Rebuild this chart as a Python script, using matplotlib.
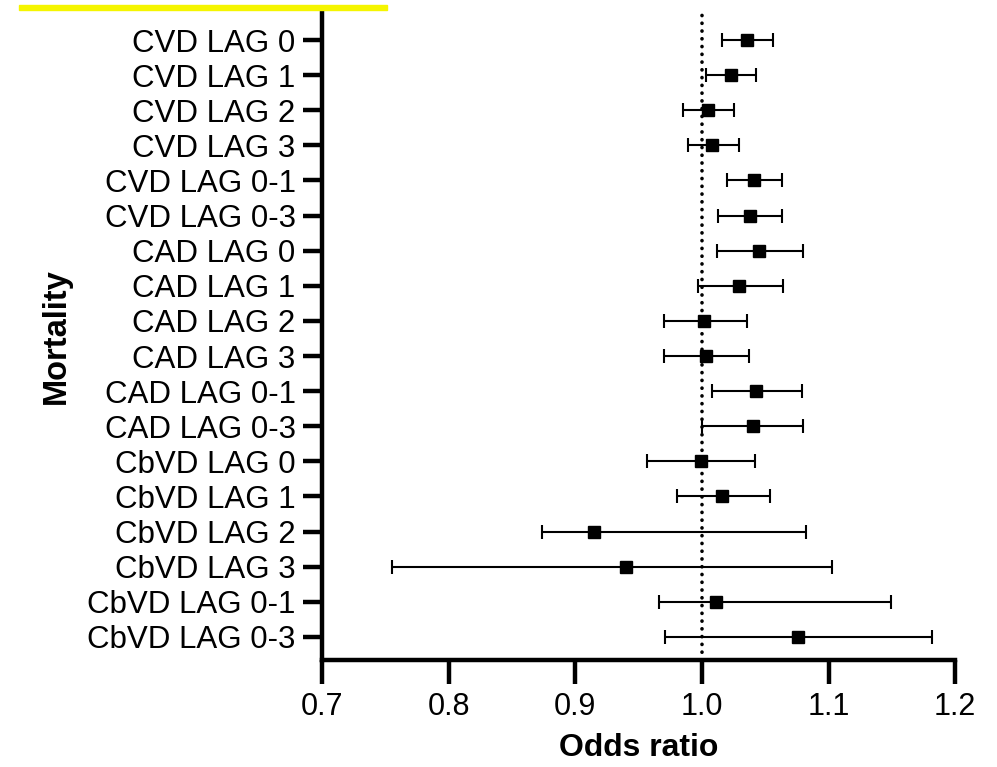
import numpy as np
import matplotlib
matplotlib.use("Agg")
import matplotlib.pyplot as plt
from matplotlib.patches import Rectangle

plt.rcParams['font.family'] = ['Liberation Sans', 'DejaVu Sans']

# forest plot values
labels = ["CVD LAG 0", "CVD LAG 1", "CVD LAG 2", "CVD LAG 3", "CVD LAG 0-1", "CVD LAG 0-3",
          "CAD LAG 0", "CAD LAG 1", "CAD LAG 2", "CAD LAG 3", "CAD LAG 0-1", "CAD LAG 0-3",
          "CbVD LAG 0", "CbVD LAG 1", "CbVD LAG 2", "CbVD LAG 3", "CbVD LAG 0-1", "CbVD LAG 0-3"]
odds = [1.036, 1.023, 1.005, 1.008, 1.041, 1.038,
        1.045, 1.029, 1.002, 1.003, 1.043, 1.040,
        0.999, 1.016, 0.915, 0.940, 1.011, 1.076]
ci_low = [1.016, 1.003, 0.985, 0.989, 1.020, 1.013,
          1.012, 0.997, 0.970, 0.970, 1.008, 1.000,
          0.957, 0.980, 0.874, 0.755, 0.966, 0.971]
ci_high = [1.056, 1.043, 1.025, 1.029, 1.063, 1.063,
           1.080, 1.064, 1.036, 1.037, 1.079, 1.080,
           1.042, 1.054, 1.082, 1.103, 1.149, 1.182]
xticks = [0.7, 0.8, 0.9, 1.0, 1.1, 1.2]

odds = np.array(odds)
err = np.vstack([odds - np.array(ci_low), np.array(ci_high) - odds])
ypos = np.arange(len(labels))

fig = plt.figure(figsize=(9.97, 7.67), dpi=100)
ax = fig.add_axes([0.323, 0.1395, 0.635, 0.8435])

# reference line at OR = 1
ax.axvline(1.0, color='black', lw=2.6, linestyle=(0, (0.05, 2.1)),
           dash_capstyle='round', zorder=1)

ax.errorbar(odds, ypos, xerr=err, fmt='s', color='black', ecolor='black',
            elinewidth=1.5, capsize=5, capthick=1.5, markersize=9, zorder=3)

ax.set_xlim(0.7, 1.2)
ax.set_ylim(len(labels) - 1 + 0.66, -0.77)
ax.set_xticks(xticks)
ax.set_xticklabels([f"{t:.1f}" for t in xticks])
ax.set_yticks(ypos)
ax.set_yticklabels(labels)

for s in ['top', 'right']:
    ax.spines[s].set_visible(False)
for s in ['left', 'bottom']:
    ax.spines[s].set_linewidth(3.2)

ax.tick_params(axis='both', direction='out', width=3.2, colors='black')
ax.tick_params(axis='y', length=14, pad=5, labelsize=22.5)
ax.tick_params(axis='x', length=17, pad=6, labelsize=22)

ax.set_xlabel("Odds ratio", fontsize=23, fontweight='bold', labelpad=8)
ax.set_ylabel("Mortality", fontsize=23.5, fontweight='bold', labelpad=11)

# highlighted strip cut at the top of the picture
fig.patches.append(Rectangle((19 / 997, 1 - 9.5 / 767), 368 / 997, 4.5 / 767,
                             transform=fig.transFigure, color='#f5f500', zorder=0))

fig.savefig("out.png", dpi=100)
